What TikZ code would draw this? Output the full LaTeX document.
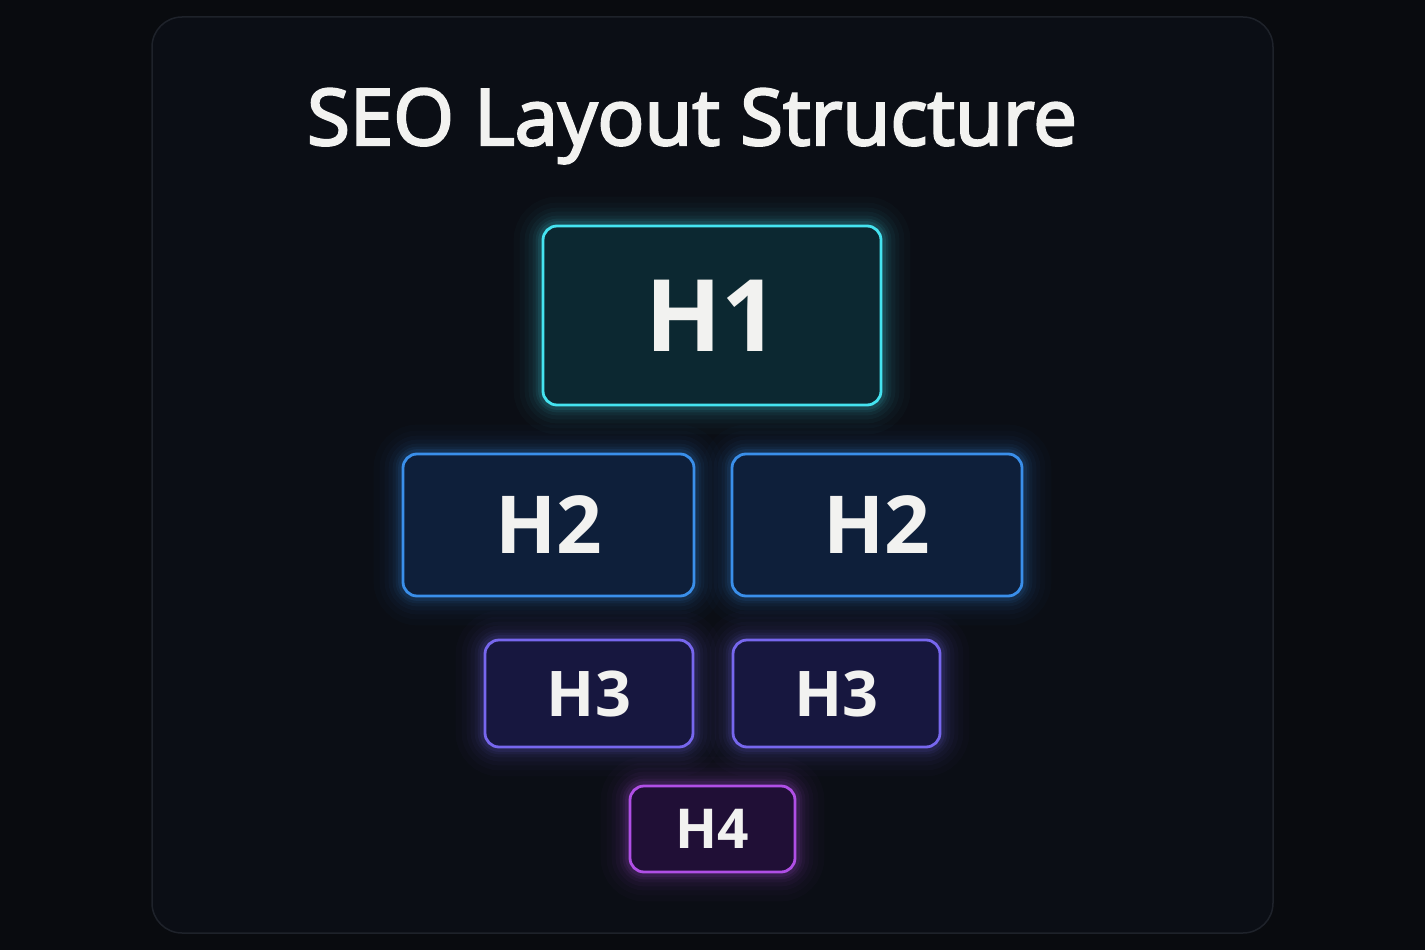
\documentclass[tikz,border=0pt]{standalone}
\usepackage{fontspec}
\setmainfont{Open Sans}
\newfontfamily\titlefont[FakeBold=3]{Open Sans}
\usetikzlibrary{backgrounds}
\definecolor{bgc}{HTML}{090B0F}
\definecolor{panelc}{HTML}{0B0E15}
\definecolor{panelb}{HTML}{1E222A}
\definecolor{hone}{HTML}{45E3F0}
\definecolor{honef}{HTML}{0C2831}
\definecolor{htwo}{HTML}{3A8FEA}
\definecolor{htwof}{HTML}{0E1F3A}
\definecolor{hthree}{HTML}{7767EE}
\definecolor{hthreef}{HTML}{17173F}
\definecolor{hfour}{HTML}{B04FE6}
\definecolor{hfourf}{HTML}{200F36}
\definecolor{txt}{HTML}{F2F2F0}
\tikzset{
  headbox/.style n args={3}{draw=#1, fill=#2, line width=2.8pt, rounded corners=14pt,
     text=txt, inner sep=0pt, font=\bfseries\fontsize{#3}{#3}\selectfont},
}
\newcommand\glowof[2]{%
  \begin{scope}[on background layer]
    \foreach \w/\o in {56/0.02,44/0.025,34/0.03,26/0.04,18/0.05,12/0.07,7/0.09}{
      \draw[#2, line width=\w pt, opacity=\o, rounded corners=16pt]
        (#1.north west) rectangle (#1.south east);
    }
  \end{scope}}
\begin{document}
\begin{tikzpicture}[x=1pt,y=-1pt]
\useasboundingbox (0,0) rectangle (1425,950);
\begin{scope}[on background layer]
  \fill[bgc] (0,0) rectangle (1425,950);
  \draw[panelb, fill=panelc, line width=1.5pt, rounded corners=30pt] (152,17) rectangle (1273,933);
\end{scope}

\node[text=txt, font=\titlefont\fontsize{78}{78}\selectfont, anchor=base] (title) at (692,145) {SEO Layout Structure};

\node[headbox={hone}{honef}{100}, minimum width=338pt, minimum height=179pt] (h1) at (712,315.5) {H1};
\node[headbox={htwo}{htwof}{80}, minimum width=291pt, minimum height=142pt] (h2a) at (548.5,525) {H2};
\node[headbox={htwo}{htwof}{80}, minimum width=290pt, minimum height=142pt] (h2b) at (877,525) {H2};
\node[headbox={hthree}{hthreef}{63}, minimum width=208pt, minimum height=107pt] (h3a) at (589,693.5) {H3};
\node[headbox={hthree}{hthreef}{63}, minimum width=207pt, minimum height=107pt] (h3b) at (836.5,693.5) {H3};
\node[headbox={hfour}{hfourf}{55}, minimum width=165pt, minimum height=86pt] (h4) at (712.5,829) {H4};

\glowof{h1}{hone}
\glowof{h2a}{htwo}
\glowof{h2b}{htwo}
\glowof{h3a}{hthree}
\glowof{h3b}{hthree}
\glowof{h4}{hfour}
\end{tikzpicture}
\end{document}
